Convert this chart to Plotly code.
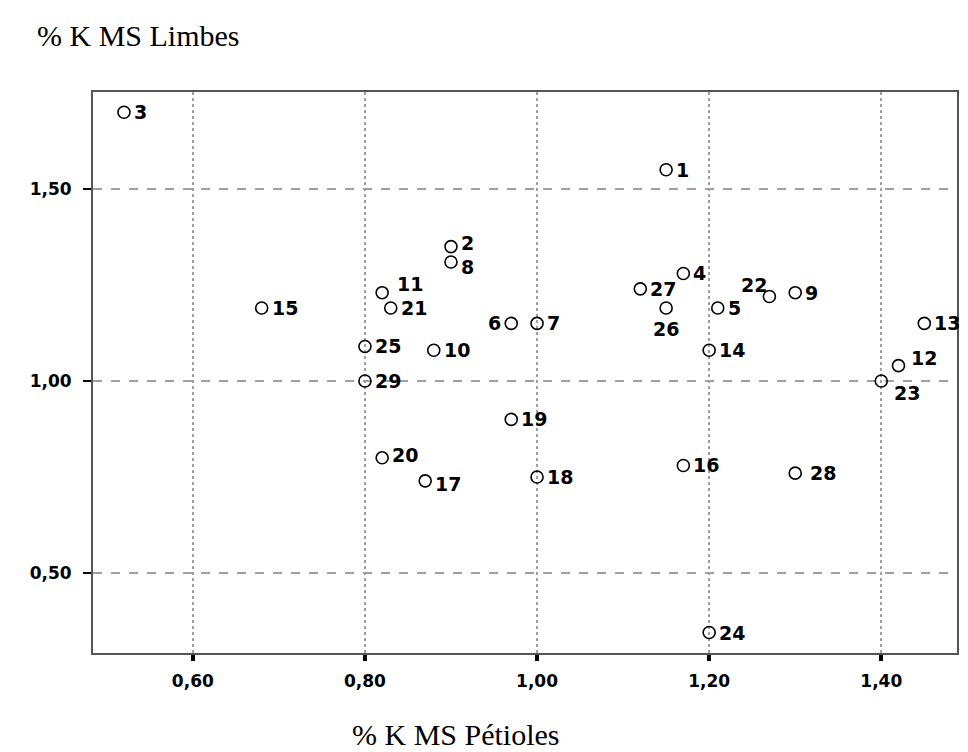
import plotly.graph_objects as go

ids = ["1","2","3","4","5","6","7","8","9","10","11","12","13","14","15",
       "16","17","18","19","20","21","22","23","24","25","26","27","28","29"]
k_petioles = [1.15, 0.90, 0.52, 1.17, 1.21, 0.97, 1.00, 0.90, 1.30, 0.88, 0.82, 1.42, 1.45, 1.20, 0.68,
              1.17, 0.87, 1.00, 0.97, 0.82, 0.83, 1.27, 1.40, 1.20, 0.80, 1.15, 1.12, 1.30, 0.80]
k_limbes = [1.55, 1.35, 1.70, 1.28, 1.19, 1.15, 1.15, 1.31, 1.23, 1.08, 1.23, 1.04, 1.15, 1.08, 1.19,
            0.78, 0.74, 0.75, 0.90, 0.80, 1.19, 1.22, 1.00, 0.345, 1.09, 1.19, 1.24, 0.76, 1.00]

x_ticks = [0.60, 0.80, 1.00, 1.20, 1.40]
x_ticktext = ["0,60", "0,80", "1,00", "1,20", "1,40"]
y_ticks = [0.50, 1.00, 1.50]
y_ticktext = ["0,50", "1,00", "1,50"]

# label placement (style only): anchor, xshift, yshift in pixels
label_style = {i: ("left", 9, 0) for i in ids}
label_style.update({
    "2": ("left", 9, 4), "8": ("left", 9, -5),
    "6": ("right", -9, 0), "11": ("left", 14, 9), "12": ("left", 12, 8),
    "22": ("right", -1, 12), "23": ("left", 12, -12), "26": ("center", 0, -21),
    "20": ("left", 9, 3), "17": ("left", 9, -3), "28": ("left", 14, 0),
})

fig = go.Figure()
fig.add_trace(go.Scatter(
    x=k_petioles, y=k_limbes, mode="markers",
    marker=dict(symbol="circle-open", size=12, color="black", line=dict(width=1.6, color="black")),
    cliponaxis=False, showlegend=False,
))

annotations = []
for lab, xv, yv in zip(ids, k_petioles, k_limbes):
    anc, dx, dy = label_style[lab]
    annotations.append(dict(
        text=lab, x=xv, y=yv, xref="x", yref="y", showarrow=False,
        xanchor=anc, yanchor="middle", xshift=dx, yshift=dy, borderpad=0,
        font=dict(family="DejaVu Sans", size=19, color="black", weight="bold"),
    ))

annotations += [
    dict(text="% K MS Limbes", xref="paper", yref="paper", x=-0.067, y=1.10,
         xanchor="left", yanchor="middle", showarrow=False,
         font=dict(family="Liberation Serif", size=30, color="black")),
    dict(text="% K MS Pétioles", xref="paper", yref="paper", x=0.42, y=-0.146,
         xanchor="center", yanchor="middle", showarrow=False,
         font=dict(family="Liberation Serif", size=30, color="black")),
]

fig.update_layout(
    width=968, height=752,
    margin=dict(l=93, r=9, t=92, b=99),
    paper_bgcolor="white", plot_bgcolor="white",
    xaxis=dict(range=[0.484, 1.488], tickvals=x_ticks, ticktext=x_ticktext,
               showgrid=True, gridcolor="#a0a0a0", gridwidth=2, griddash="dot",
               showline=True, linecolor="#555555", linewidth=2, mirror=True,
               ticks="outside", ticklen=6, tickwidth=4, tickcolor="black",
               ticklabelstandoff=6,
               tickfont=dict(family="DejaVu Sans", size=17, color="black", weight="bold"),
               zeroline=False),
    yaxis=dict(range=[0.2917, 1.7526], tickvals=y_ticks, ticktext=y_ticktext,
               showgrid=True, gridcolor="#a0a0a0", gridwidth=2, griddash="dash",
               showline=True, linecolor="#555555", linewidth=2, mirror=True,
               ticks="outside", ticklen=8, tickwidth=2, tickcolor="black",
               ticklabelstandoff=8,
               tickfont=dict(family="DejaVu Sans", size=17, color="black", weight="bold"),
               zeroline=False),
    annotations=annotations,
)

fig.write_html("out.html")
